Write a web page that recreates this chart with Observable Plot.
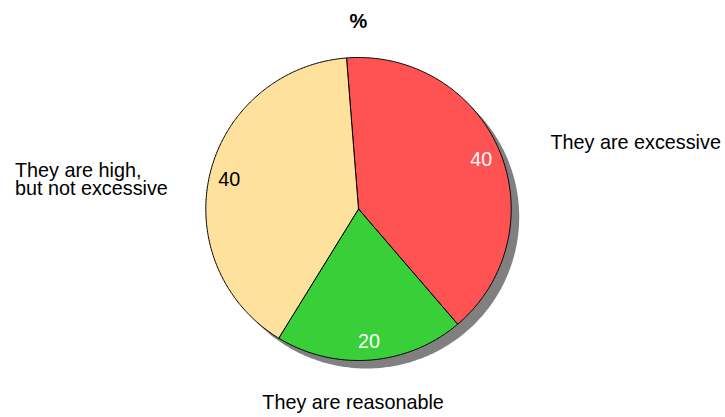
<!DOCTYPE html>
<html>
<head>
<meta charset="utf-8">
<script src="https://cdn.jsdelivr.net/npm/d3@7"></script>
<script src="https://cdn.jsdelivr.net/npm/@observablehq/plot@0.6"></script>
<style>
  body { margin: 0; background: #fff; }
  #chart svg { display: block; }
</style>
</head>
<body>
<div id="chart"></div>
<script>
// Survey answers (percent)
const categories = ["They are excessive", "They are reasonable", "They are high,\nbut not excessive"];
const values = [40, 20, 40];
const sliceColors = ["#ff5252", "#38cf38", "#fee19d"];
const valueTextColors = ["white", "white", "black"];
const title = "%";

// first slice starts just left of twelve o'clock and runs clockwise
const startAngle = -4.5 * Math.PI / 180;
const arcs = d3.pie().sort(null).startAngle(startAngle).endAngle(startAngle + 2 * Math.PI)(values);

// each slice as a closed polygon in a unit-circle coordinate system (y up)
function slicePolygon(a, i) {
  const steps = Math.max(4, Math.ceil((a.endAngle - a.startAngle) / 0.01));
  const pts = [{i, x: 0, y: 0}];
  for (let k = 0; k <= steps; k++) {
    const t = a.startAngle + (a.endAngle - a.startAngle) * k / steps;
    pts.push({i, x: Math.sin(t), y: Math.cos(t)});
  }
  pts.push({i, x: 0, y: 0});
  return pts;
}
const slices = arcs.map(slicePolygon);
const outline = d3.range(0, 361).map(d => ({x: Math.sin(d * Math.PI / 180), y: Math.cos(d * Math.PI / 180)}));

// label anchor points along each slice's middle angle
const mids = arcs.map((a, i) => ({i, mid: (a.startAngle + a.endAngle) / 2}));
const at = (r) => mids.map(m => ({i: m.i, x: r * Math.sin(m.mid), y: r * Math.cos(m.mid)}));
const inner = at(0.87);
const outer = at(1.3);

const W = 725, H = 417;
const font = "'Liberation Sans', Arial, Helvetica, sans-serif";

const chart = Plot.plot({
  width: W,
  height: H,
  marginLeft: 205.3,
  marginRight: W - 510.7,
  marginTop: 57,
  marginBottom: H - 360,
  x: {domain: [-1, 1], axis: null},
  y: {domain: [-1, 1], axis: null},
  style: {fontFamily: font, fontSize: "19.8px", background: "white", overflow: "visible"},
  marks: [
    // drop shadow
    Plot.line(outline, {x: "x", y: "y", fill: "#808080", stroke: "none", dx: 8, dy: 8}),
    // slices
    ...slices.map((pts, i) =>
      Plot.line(pts, {x: "x", y: "y", fill: sliceColors[i], stroke: "black", strokeWidth: 1, strokeLinejoin: "miter"})
    ),
    // values inside the slices
    ...inner.map((p, i) =>
      Plot.text([p], {x: "x", y: "y", text: () => String(values[i]), fill: valueTextColors[i], lineAnchor: "middle", dy: 1})
    ),
    // category labels
    Plot.text([outer[0]], {x: "x", y: "y", text: () => categories[0], textAnchor: "start", lineAnchor: "middle", dx: 8.6, dy: 8.6, fill: "black"}),
    Plot.text([outer[1]], {x: "x", y: "y", text: () => categories[1], textAnchor: "middle", lineAnchor: "middle", dx: -21, dy: -3, fill: "black"}),
    Plot.text([outer[2]], {x: "x", y: "y", text: () => categories[2], textAnchor: "start", lineAnchor: "middle", lineHeight: 0.93, dx: -150.5, dy: 17.3, fill: "black"}),
    // title
    Plot.text([title], {frameAnchor: "top", text: d => d, lineAnchor: "middle", dy: -36.4, fontWeight: "bold", fontSize: 20, fill: "black"})
  ]
});

document.getElementById("chart").appendChild(chart);
</script>
</body>
</html>
